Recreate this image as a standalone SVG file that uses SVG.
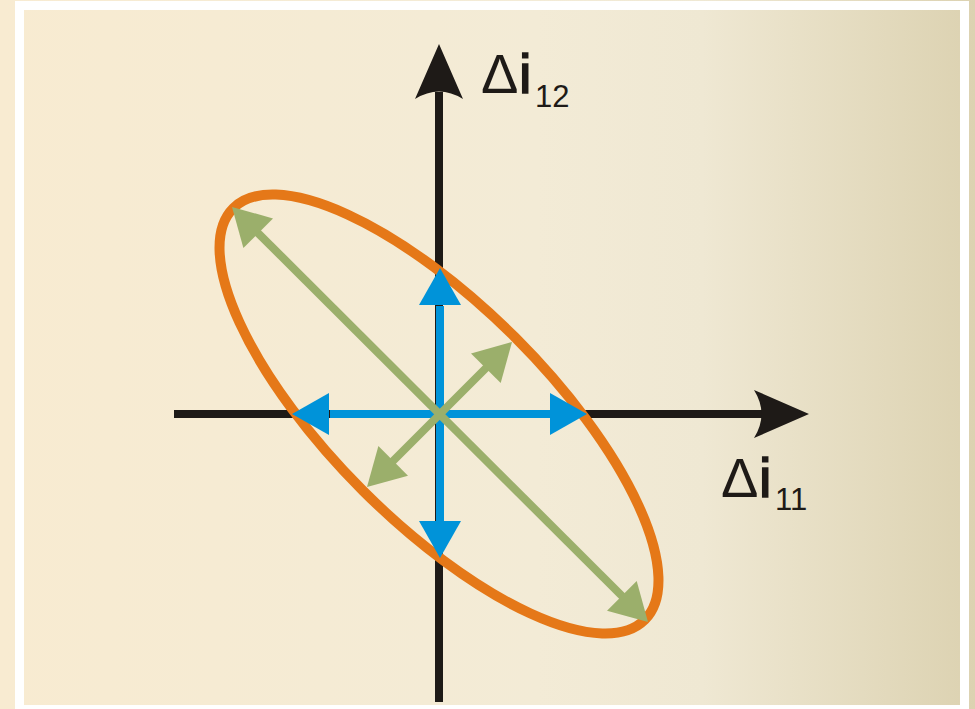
<svg xmlns="http://www.w3.org/2000/svg" width="975" height="709" viewBox="0 0 975 709">
<defs>
<linearGradient id="bg" gradientUnits="userSpaceOnUse" x1="0" y1="0" x2="975" y2="0">
<stop offset="0" stop-color="#F8EBD1"/>
<stop offset="0.55" stop-color="#F3EBD6"/>
<stop offset="0.72" stop-color="#EFE8D3"/>
<stop offset="1" stop-color="#DCD2B1"/>
</linearGradient>
<style>
.ax{stroke:#1E1A17;stroke-width:8;fill:none}
.axh{fill:#1E1A17}
.bl{stroke:#0093D9;stroke-width:8;fill:none}
.blh{fill:#0093D9}
.gr{stroke:#9BAF6B;stroke-width:8;fill:none}
.grh{fill:#9BAF6B}
.lbl{font-family:"Liberation Sans",Arial,sans-serif;fill:#1E1A17}
.bi{stroke:#1E1A17;stroke-width:1.6}
</style>
</defs>
<rect x="0" y="0" width="975" height="709" fill="url(#bg)"/>
<rect x="15" y="1" width="954" height="720" fill="#FFFFFF"/>
<rect x="24" y="10" width="936" height="695" fill="url(#bg)"/>
<g id="connectors">
<g id="axes">
<line class="ax" x1="174" y1="414" x2="762" y2="414"/>
<path class="axh" d="M809,414 L754,438 Q769,414 754,390 Z"/>
<line class="ax" x1="439" y1="702" x2="439" y2="92"/>
<path class="axh" d="M439,44 L463,99 Q439,84 415,99 Z"/>
</g>
<g id="ellipse">
<ellipse cx="439" cy="414" rx="291" ry="108" transform="rotate(45 439 414)" fill="none" stroke="#E57818" stroke-width="10"/>
</g>
<g id="blue-arrows">
<line class="bl" x1="440" y1="306" x2="440" y2="522"/>
<line class="bl" x1="330" y1="414" x2="551" y2="414"/>
<polygon class="blh" points="440,268 461,305 419,305"/>
<polygon class="blh" points="440,558 461,521 419,521"/>
<polygon class="blh" points="292,414 329,393 329,435"/>
<polygon class="blh" points="587,414 550,393 550,435"/>
</g>
<g id="green-arrows">
<line class="gr" x1="256" y1="231" x2="624" y2="598"/>
<line class="gr" x1="487" y1="367" x2="392" y2="462"/>
<polygon class="grh" points="232,207 273,218.4 243.4,248"/>
<polygon class="grh" points="648,622 636.7,581 607,610.7"/>
<polygon class="grh" points="512,342 500.7,383 471,353.4"/>
<polygon class="grh" points="367,487 408,475.7 378.4,446"/>
</g>
</g>
<g id="label-di12">
<text class="lbl" x="481" y="93" font-size="56">Δ</text>
<text class="lbl bi" x="519" y="93" font-size="56">i</text>
<text class="lbl" x="535" y="107" font-size="31">12</text>
</g>
<g id="label-di11">
<text class="lbl" x="721" y="497" font-size="56">Δ</text>
<text class="lbl bi" x="759" y="497" font-size="56">i</text>
<text class="lbl" x="775" y="510" font-size="31">11</text>
</g>
</svg>
